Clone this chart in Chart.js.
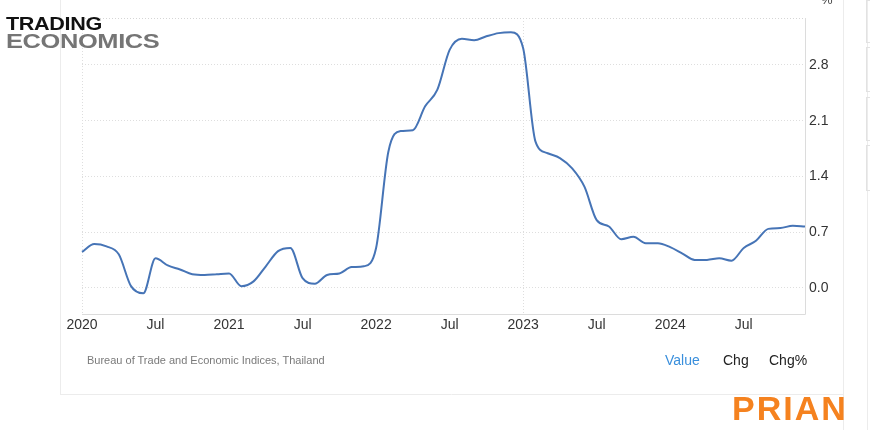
<!DOCTYPE html>
<html>
<head>
<meta charset="utf-8">
<script src="https://cdn.jsdelivr.net/npm/chart.js@4/dist/chart.umd.min.js"></script>
<style>
  html, body { margin: 0; padding: 0; background: #fff; }
  #wrap { position: relative; width: 870px; height: 430px; overflow: hidden; }
  #c { position: absolute; left: 0; top: 0; }
  .t { position: absolute; font-family: "Liberation Sans", Arial, sans-serif; white-space: nowrap; line-height: 1; }
  .logo { font-weight: bold; transform-origin: 0 0; letter-spacing: -0.3px; }
</style>
</head>
<body>
<div id="wrap">
  <canvas id="c" width="870" height="430"></canvas>
  <div class="t logo" style="left:6px; top:15px; font-size:18px; color:#111; transform:scaleX(1.2);">TRADING</div>
  <div class="t logo" style="left:6px; top:31px; font-size:20.5px; color:#757575; transform:scaleX(1.24);">ECONOMICS</div>
  <div class="t" style="left:87px; top:355px; font-size:11px; color:#7a7a7a;">Bureau of Trade and Economic Indices, Thailand</div>
  <div class="t" style="left:665px; top:353px; font-size:14px; color:#3a8fdc;">Value</div>
  <div class="t" style="left:723px; top:353px; font-size:14px; color:#222;">Chg</div>
  <div class="t" style="left:769px; top:353px; font-size:14px; color:#222;">Chg%</div>
  <div class="t" style="left:732px; top:391px; font-size:34px; font-weight:bold; color:#f5821f; letter-spacing:2px;">PRIAN</div>
</div>
<script>
const categories = [];
for (let y = 2020; y <= 2024; y++) for (let m = 1; m <= 12; m++) categories.push(y + '-' + String(m).padStart(2, '0'));

const values2020 = [0.45, 0.55, 0.52, 0.42, 0.02, -0.07, 0.37, 0.28, 0.23, 0.17, 0.16, 0.17];
const values2021 = [0.18, 0.02, 0.08, 0.27, 0.46, 0.50, 0.12, 0.05, 0.16, 0.18, 0.26, 0.27];
const values2022 = [0.50, 1.71, 1.97, 1.98, 2.28, 2.49, 2.99, 3.13, 3.11, 3.16, 3.20, 3.21];
const values2023 = [3.01, 1.84, 1.69, 1.63, 1.50, 1.27, 0.85, 0.77, 0.61, 0.64, 0.56, 0.56];
const values2024 = [0.51, 0.43, 0.35, 0.35, 0.37, 0.34, 0.50, 0.59, 0.74, 0.75, 0.78, 0.77];
const values = [].concat(values2020, values2021, values2022, values2023, values2024);

const yTickValues = [0.0, 0.7, 1.4, 2.1, 2.8];
const monthNames = ['Jan','Feb','Mar','Apr','May','Jun','Jul','Aug','Sep','Oct','Nov','Dec'];

const frame = {
  id: 'frame',
  beforeDraw(chart) {
    const { ctx } = chart;
    ctx.save();
    ctx.strokeStyle = '#ececec';
    ctx.lineWidth = 1;
    ctx.beginPath();
    ctx.moveTo(60.5, 0); ctx.lineTo(60.5, 395);
    ctx.moveTo(60, 394.5); ctx.lineTo(843, 394.5);
    ctx.moveTo(843.5, 0); ctx.lineTo(843.5, 430);
    ctx.moveTo(867.5, 0); ctx.lineTo(867.5, 430);
    ctx.stroke();
    ctx.strokeStyle = '#e2e2e2';
    [[0, 42], [47, 91], [97, 140], [145, 190]].forEach(([a, b]) => {
      ctx.strokeRect(866.5, a + 0.5, 10, b - a);
    });
    ctx.restore();
  },
  afterDraw(chart) {
    const { ctx, chartArea: a } = chart;
    ctx.save();
    ctx.strokeStyle = '#dcdcdc';
    ctx.lineWidth = 1;
    ctx.beginPath();
    ctx.moveTo(a.left, a.bottom + 0.5); ctx.lineTo(a.right + 0.5, a.bottom + 0.5);
    ctx.moveTo(a.right + 0.5, a.top); ctx.lineTo(a.right + 0.5, a.bottom + 0.5);
    ctx.stroke();
    ctx.setLineDash([1, 2]);
    ctx.strokeStyle = '#d6d6d6';
    ctx.beginPath();
    ctx.moveTo(a.left, a.top + 0.5); ctx.lineTo(a.right, a.top + 0.5);
    ctx.stroke();
    ctx.fillStyle = '#444';
    ctx.font = '13px "Liberation Sans", Arial, sans-serif';
    ctx.textAlign = 'left';
    ctx.textBaseline = 'alphabetic';
    ctx.fillText('%', 821, 4);
    ctx.restore();
  }
};

new Chart(document.getElementById('c'), {
  type: 'line',
  data: {
    labels: categories,
    datasets: [{
      data: values,
      borderColor: '#4674b6',
      borderWidth: 2,
      pointRadius: 0,
      fill: false,
      cubicInterpolationMode: 'monotone'
    }]
  },
  options: {
    responsive: false,
    animation: false,
    layout: { padding: { left: 82, top: 18, right: 0, bottom: 0 } },
    plugins: { legend: { display: false }, tooltip: { enabled: false } },
    scales: {
      x: {
        type: 'category',
        offset: false,
        afterFit(s) { s.height = 116; },
        grid: {
          drawTicks: false,
          color: (c) => (c.index % 6 === 0 ? '#dedede' : 'transparent'),
          lineWidth: 1
        },
        border: { display: false, dash: [1, 2] },
        ticks: {
          autoSkip: false,
          maxRotation: 0,
          padding: 3,
          color: '#333',
          font: { family: '"Liberation Sans", Arial, sans-serif', size: 14 },
          callback: function (v, i) {
            if (i % 12 === 0) return categories[i].slice(0, 4);
            if (i % 12 === 6) return monthNames[6];
            return null;
          }
        }
      },
      y: {
        position: 'right',
        min: -0.33,
        max: 3.39,
        afterFit(s) { s.width = 65; },
        afterBuildTicks(s) { s.ticks = yTickValues.map(v => ({ value: v })); },
        grid: { drawTicks: false, color: '#dedede', lineWidth: 1 },
        border: { display: false, dash: [1, 2] },
        ticks: {
          padding: 4,
          color: '#333',
          font: { family: '"Liberation Sans", Arial, sans-serif', size: 14 },
          callback: (v) => Number(v).toFixed(1)
        }
      }
    }
  },
  plugins: [frame]
});
</script>
</body>
</html>
